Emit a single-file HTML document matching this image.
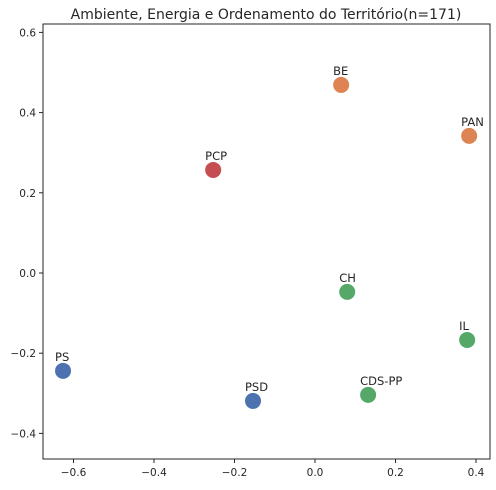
<!DOCTYPE html>
<html><head><meta charset="utf-8"><style>
body{margin:0;background:#fff;font-family:"DejaVu Sans","Liberation Sans",sans-serif}
svg text{font-family:"DejaVu Sans","Liberation Sans",sans-serif}
</style></head><body>
<svg id="chart" width="496" height="486" xmlns="http://www.w3.org/2000/svg">
<rect width="496" height="486" fill="#fff"/>
<text x="266" y="19" text-anchor="middle" font-size="14" fill="#262626">Ambiente, Energia e Ordenamento do Território(n=171)</text>
<g id="ticks"></g>
<g id="points"></g>
<rect x="43" y="24" width="447" height="435" fill="none" stroke="#262626" stroke-width="1"/>
</svg>
<script>
const parties=["BE","PAN","PCP","CH","IL","CDS-PP","PSD","PS"];
const xs=[0.065,0.383,-0.253,0.080,0.378,0.132,-0.154,-0.626];
const ys=[0.469,0.342,0.257,-0.047,-0.167,-0.304,-0.319,-0.244];
const groups=["orange","orange","red","green","green","green","blue","blue"];
const xTicks=[-0.6,-0.4,-0.2,0.0,0.2,0.4];
const yTicks=[-0.4,-0.2,0.0,0.2,0.4,0.6];
const palette={blue:"#4c72b0",orange:"#dd8452",green:"#55a868",red:"#c44e52"};
const X=v=>315+v*402.5, Y=v=>273-v*401;
const NS="http://www.w3.org/2000/svg";
const tg=document.getElementById('ticks'), pg=document.getElementById('points');
function mk(tag,attrs,p){const e=document.createElementNS(NS,tag);for(const k in attrs)e.setAttribute(k,attrs[k]);p.appendChild(e);return e;}
const fmt=v=>(v<0?"\u2212":"")+Math.abs(v).toFixed(1);
xTicks.forEach(v=>{
 const l=mk('line',{x1:X(v),x2:X(v),y1:459,y2:463,stroke:"#262626"},tg);
 
 
 const t=mk('text',{x:X(v),y:476,'text-anchor':'middle','font-size':'10.5',fill:'#262626'},tg);t.textContent=fmt(v);
 
 
});
yTicks.forEach(v=>{
 const l=mk('line',{x1:39,x2:43,y1:Y(v),y2:Y(v),stroke:"#262626"},tg);
 
 
 const t=mk('text',{x:36,y:Y(v)+4,'text-anchor':'end','font-size':'10.5',fill:'#262626'},tg);t.textContent=fmt(v);
 
 
});
parties.forEach((p,i)=>{
 const c=mk('circle',{cx:X(xs[i]),cy:Y(ys[i]),r:8,fill:palette[groups[i]]},pg);
 
 
 const t=mk('text',{x:X(xs[i])-8,y:Y(ys[i])-10,'font-size':'11.5',fill:'#262626'},pg);t.textContent=p;
 
 
});
</script>
</body></html>
